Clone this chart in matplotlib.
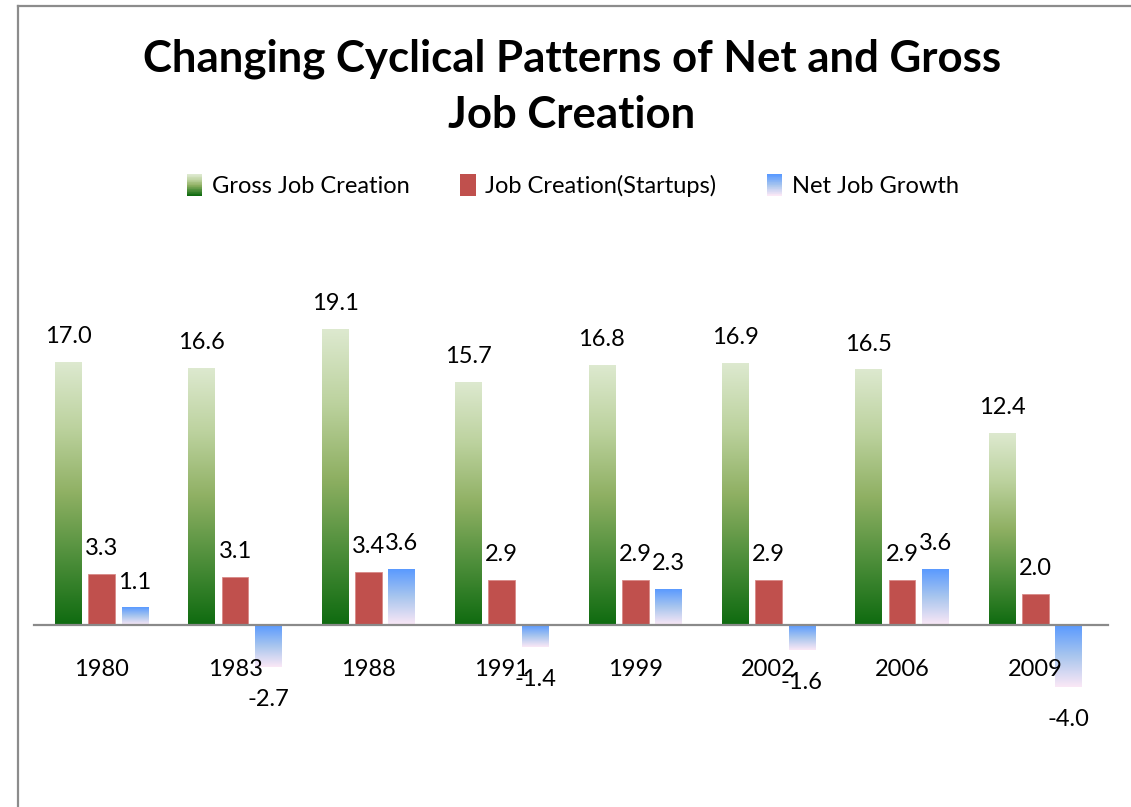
import numpy as np
import matplotlib.pyplot as plt
from matplotlib.colors import LinearSegmentedColormap
from matplotlib.patches import Rectangle
from matplotlib.lines import Line2D
from matplotlib.legend_handler import HandlerBase

years = ["1980", "1983", "1988", "1991", "1999", "2002", "2006", "2009"]
gross = [17.0, 16.6, 19.1, 15.7, 16.8, 16.9, 16.5, 12.4]
startups = [3.3, 3.1, 3.4, 2.9, 2.9, 2.9, 2.9, 2.0]
net = [1.1, -2.7, 3.6, -1.4, 2.3, -1.6, 3.6, -4.0]
series_names = ["Gross Job Creation", "Job Creation(Startups)", "Net Job Growth"]

# degradés du bas vers le haut
vert = LinearSegmentedColormap.from_list(
    "vert", [(0, "#0f6b10"), (0.25, "#4d8e3a"), (0.5, "#8fb063"), (0.75, "#bcd29e"), (1, "#dde9cf")])
bleu = LinearSegmentedColormap.from_list(
    "bleu", [(0, "#fbe8f6"), (0.5, "#a9c6ee"), (1, "#5a9aff")])
rouge = "#c0504d"

POLICE = "Lato"


def barre_degrade(ax, x0, larg, y0, y1, cmap):
    bas, haut = min(y0, y1), max(y0, y1)
    grad = np.linspace(0, 1, 256).reshape(-1, 1)
    ax.imshow(grad, extent=[x0, x0 + larg, bas, haut], origin="lower",
              cmap=cmap, aspect="auto", zorder=2, interpolation="bilinear")


class HandlerDegrade(HandlerBase):
    def __init__(self, cmap=None, couleur=None):
        super().__init__()
        self.cmap = cmap
        self.couleur = couleur

    def create_artists(self, legend, orig_handle, xdescent, ydescent,
                       width, height, fontsize, trans):
        n = 30
        artistes = []
        for i in range(n):
            if self.cmap is not None:
                c = self.cmap(i / (n - 1))
            else:
                c = self.couleur
            r = Rectangle((-xdescent, -ydescent + height * i / n), width, height / n + 0.3,
                          facecolor=c, edgecolor="none", transform=trans)
            artistes.append(r)
        return artistes


fig = plt.figure(figsize=(11.31, 8.07), dpi=100)

# cadre gris (haut et gauche)
fig.add_artist(Line2D([18 / 1131, 18 / 1131], [0, 1 - 6 / 807], color="#8c8c8c", lw=1.6,
                      transform=fig.transFigure))
fig.add_artist(Line2D([18 / 1131, 1], [1 - 6 / 807, 1 - 6 / 807], color="#8c8c8c", lw=1.6,
                      transform=fig.transFigure))

ymin, ymax = -10, 24
px_unite = 15.47
hauteur = (ymax - ymin) * px_unite
bas_px = 625 + (-ymin) * px_unite
ax = fig.add_axes([35 / 1131, (807 - bas_px) / 807, 1067 / 1131, hauteur / 807])
ax.axis("off")

x = np.arange(len(years))
larg = 0.2
ecart = 0.05
pos_g = x - larg * 1.5 - ecart
pos_r = x - larg / 2
pos_n = x + larg / 2 + ecart

for i in range(len(years)):
    barre_degrade(ax, pos_g[i], larg, 0, gross[i], vert)
    barre_degrade(ax, pos_n[i], larg, 0, net[i], bleu)
ax.bar(pos_r, startups, width=larg, align="edge", color=rouge, edgecolor="#d98a88",
       linewidth=0.6, zorder=2)

ax.axhline(0, color="#8a8a8a", lw=1.6, zorder=3, xmin=-0.001, xmax=1.006, clip_on=False)

# étiquettes de valeurs
def etiquette(xc, v):
    dy = 18.5 if v >= 0 else -23.5
    ax.annotate(f"{v:.1f}", (xc, v), xytext=(0, dy), textcoords="offset points",
                ha="center", va="center", fontsize=17, family=POLICE, zorder=4)

for i in range(len(years)):
    etiquette(pos_g[i] + larg / 2, gross[i])
    etiquette(pos_r[i] + larg / 2, startups[i])
    etiquette(pos_n[i] + larg / 2, net[i])
    ax.annotate(years[i], (x[i], 0), xytext=(0, -32), textcoords="offset points",
                ha="center", va="center", fontsize=17, family=POLICE, zorder=4)

ax.set_xlim(-0.5, len(years) - 0.5)
ax.set_ylim(ymin, ymax)

fig.text(572 / 1131, 1 - 87 / 807, "Changing Cyclical Patterns of Net and Gross\nJob Creation",
         ha="center", va="center", fontsize=31.5, fontweight="bold", family=POLICE,
         linespacing=1.47)

poignees = [Rectangle((0, 0), 1, 1) for _ in range(3)]
leg = fig.legend(poignees, series_names, loc="center", bbox_to_anchor=(573 / 1131, 1 - 186 / 807),
                 ncol=3, frameon=False, prop={"family": POLICE, "size": 17},
                 handler_map={poignees[0]: HandlerDegrade(cmap=vert),
                              poignees[1]: HandlerDegrade(couleur=rouge),
                              poignees[2]: HandlerDegrade(cmap=bleu)},
                 handlelength=0.65, handleheight=1.0, handletextpad=0.4, columnspacing=2.15)

fig.savefig("out.png", dpi=100)
